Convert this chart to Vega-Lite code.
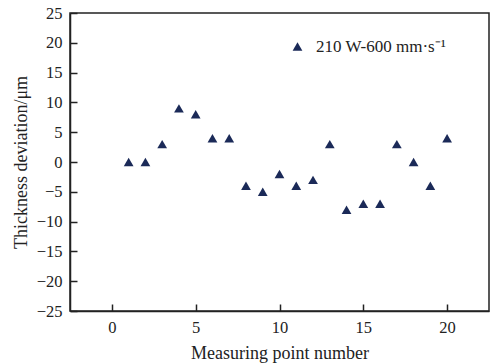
{
  "$schema": "https://vega.github.io/schema/vega-lite/v6.json",
  "width": 419,
  "height": 298,
  "autosize": {"type": "none"},
  "padding": {"left": 70, "top": 13, "right": 10, "bottom": 53},
  "background": "white",
  "config": {
    "view": {"stroke": "#222", "strokeWidth": 1.5},
    "font": "Liberation Serif",
    "axis": {
      "grid": false,
      "domainColor": "#222",
      "domainWidth": 1.5,
      "tickColor": "#222",
      "tickWidth": 1.5,
      "tickSize": -7,
      "labelPadding": 15,
      "labelFont": "Liberation Serif",
      "labelFontSize": 16.5,
      "labelColor": "#222",
      "titleFont": "Liberation Serif",
      "titleFontSize": 18,
      "titleFontWeight": "normal",
      "titleColor": "#222"
    }
  },
  "data": {
    "values": [
      {"point": 1, "dev": 0, "series": "210 W-600 mm·s⁻¹"},
      {"point": 2, "dev": 0, "series": "210 W-600 mm·s⁻¹"},
      {"point": 3, "dev": 3, "series": "210 W-600 mm·s⁻¹"},
      {"point": 4, "dev": 9, "series": "210 W-600 mm·s⁻¹"},
      {"point": 5, "dev": 8, "series": "210 W-600 mm·s⁻¹"},
      {"point": 6, "dev": 4, "series": "210 W-600 mm·s⁻¹"},
      {"point": 7, "dev": 4, "series": "210 W-600 mm·s⁻¹"},
      {"point": 8, "dev": -4, "series": "210 W-600 mm·s⁻¹"},
      {"point": 9, "dev": -5, "series": "210 W-600 mm·s⁻¹"},
      {"point": 10, "dev": -2, "series": "210 W-600 mm·s⁻¹"},
      {"point": 11, "dev": -4, "series": "210 W-600 mm·s⁻¹"},
      {"point": 12, "dev": -3, "series": "210 W-600 mm·s⁻¹"},
      {"point": 13, "dev": 3, "series": "210 W-600 mm·s⁻¹"},
      {"point": 14, "dev": -8, "series": "210 W-600 mm·s⁻¹"},
      {"point": 15, "dev": -7, "series": "210 W-600 mm·s⁻¹"},
      {"point": 16, "dev": -7, "series": "210 W-600 mm·s⁻¹"},
      {"point": 17, "dev": 3, "series": "210 W-600 mm·s⁻¹"},
      {"point": 18, "dev": 0, "series": "210 W-600 mm·s⁻¹"},
      {"point": 19, "dev": -4, "series": "210 W-600 mm·s⁻¹"},
      {"point": 20, "dev": 4, "series": "210 W-600 mm·s⁻¹"}
    ]
  },
  "mark": {"type": "point", "shape": "triangle-up", "filled": true, "size": 95, "opacity": 1},
  "encoding": {
    "x": {
      "field": "point", "type": "quantitative",
      "scale": {"domain": [-2.5, 22.5], "nice": false, "zero": false},
      "axis": {"values": [0, 5, 10, 15, 20], "title": "Measuring point number", "titlePadding": 9}
    },
    "y": {
      "field": "dev", "type": "quantitative",
      "scale": {"domain": [-25, 25], "nice": false},
      "axis": {"values": [-25, -20, -15, -10, -5, 0, 5, 10, 15, 20, 25], "title": "Thickness deviation/μm", "titlePadding": 6}
    },
    "color": {
      "field": "series", "type": "nominal",
      "scale": {"range": ["#1b2a58"]},
      "legend": {
        "title": null,
        "orient": "none",
        "legendX": 219,
        "legendY": 25,
        "symbolType": "triangle-up",
        "symbolSize": 95,
        "symbolFillColor": "#1b2a58",
        "labelOffset": 10,
        "labelFont": "Liberation Serif",
        "labelFontSize": 17,
        "labelColor": "#222"
      }
    }
  }
}
